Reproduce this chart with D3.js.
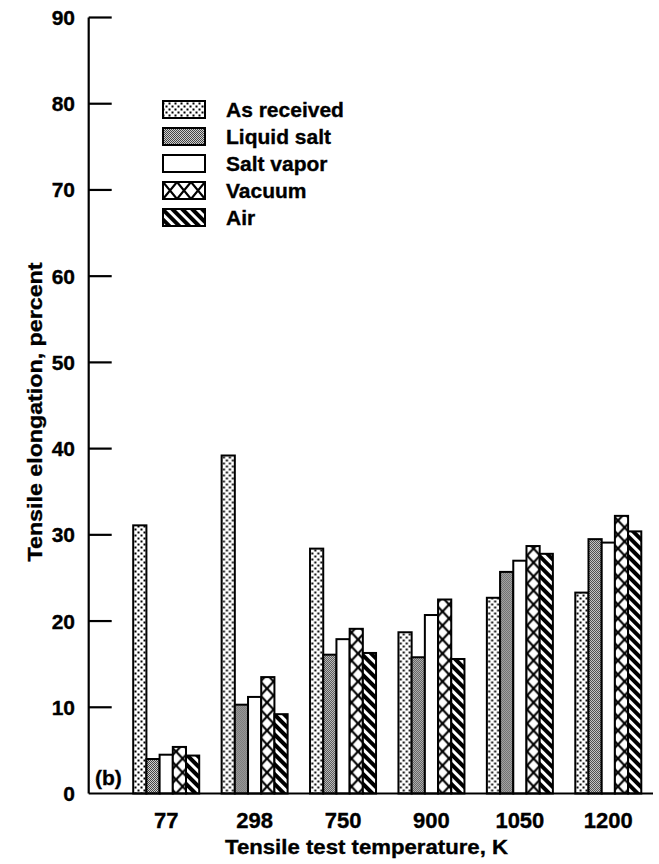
<!DOCTYPE html>
<html>
<head>
<meta charset="utf-8">
<script src="https://cdn.jsdelivr.net/npm/d3@7"></script>
<style>
  body { margin: 0; background: #fff; }
  svg text { font-family: "Liberation Sans", Arial, Helvetica, sans-serif; font-weight: bold; fill: #000; stroke: #000; stroke-width: 0.35px; }
</style>
</head>
<body>
<div id="graph"></div>
<script>
// values
var temps = ["77", "298", "750", "900", "1050", "1200"];
var seriesNames = ["As received", "Liquid salt", "Salt vapor", "Vacuum", "Air"];
var asReceived = [31.1, 39.2, 28.4, 18.7, 22.7, 23.3];
var liquidSalt = [4.0, 10.3, 16.1, 15.8, 25.7, 29.5];
var saltVapor  = [4.5, 11.2, 17.9, 20.7, 27.0, 29.1];
var vacuum     = [5.4, 13.5, 19.1, 22.5, 28.7, 32.2];
var air        = [4.4, 9.2, 16.3, 15.6, 27.8, 30.4];
var yTicks = [0, 10, 20, 30, 40, 50, 60, 70, 80, 90];

var allSeries = [asReceived, liquidSalt, saltVapor, vacuum, air];
var fills = ["dots", "gray", "none", "cross", "stripes"];

var width = 659, height = 864;
var axisX = 88.7, axisRight = 653;

var svg = d3.select("#graph").append("svg")
    .attr("width", width)
    .attr("height", height);

var y = d3.scaleLinear().domain([0, 90]).range([793.5, 17.5]);

var x0 = d3.scaleBand().domain(temps).range([122, 652.5]);
var groupW = 66;
var x1 = d3.scaleBand().domain(seriesNames)
    .range([(x0.bandwidth() - groupW) / 2, (x0.bandwidth() + groupW) / 2]);
var bw = x1.bandwidth();

var defs = svg.append("defs");

// sparse dots (as received)
var pDots = defs.append("pattern").attr("id", "dots")
    .attr("patternUnits", "userSpaceOnUse").attr("width", 6).attr("height", 6);
pDots.append("rect").attr("width", 6).attr("height", 6).attr("fill", "#fff");
pDots.append("rect").attr("x", 0.5).attr("y", 0.5).attr("width", 2).attr("height", 2).attr("fill", "#000");
pDots.append("rect").attr("x", 3.5).attr("y", 3.5).attr("width", 2).attr("height", 2).attr("fill", "#000");

// fine gray dither (liquid salt)
var pGray = defs.append("pattern").attr("id", "gray")
    .attr("patternUnits", "userSpaceOnUse").attr("width", 2).attr("height", 2);
pGray.append("rect").attr("width", 2).attr("height", 2).attr("fill", "#d0d0d0");
pGray.append("rect").attr("width", 1).attr("height", 1).attr("fill", "#444");
pGray.append("rect").attr("x", 1).attr("y", 1).attr("width", 1).attr("height", 1).attr("fill", "#444");

// diagonal stripes (air)
var pStr = defs.append("pattern").attr("id", "stripes")
    .attr("patternUnits", "userSpaceOnUse").attr("width", 7).attr("height", 7)
    .attr("patternTransform", "rotate(-45)");
pStr.append("rect").attr("width", 7).attr("height", 7).attr("fill", "#fff");
pStr.append("rect").attr("width", 4).attr("height", 7).attr("fill", "#000");

// crosshatch (vacuum), one per bar so the X sits on the bar
function crossPattern(id, px, py, w, h) {
  var p = defs.append("pattern").attr("id", id)
      .attr("patternUnits", "userSpaceOnUse")
      .attr("x", px).attr("y", py).attr("width", w).attr("height", h);
  p.append("rect").attr("width", w).attr("height", h).attr("fill", "#fff");
  p.append("path")
      .attr("d", "M0,0L" + w + "," + h + "M" + w + ",0L0," + h)
      .attr("stroke", "#000").attr("stroke-width", 2.2);
}
temps.forEach(function(t, i) {
  crossPattern("cross" + i, x0(t) + x1("Vacuum"), y(0), bw, 14);
});

function fillFor(k, i) {
  var f = fills[k];
  if (f === "none") return "#fff";
  if (f === "cross") return "url(#cross" + i + ")";
  return "url(#" + f + ")";
}

// bars
var groups = svg.append("g").selectAll("g")
    .data(temps)
    .enter().append("g")
    .attr("transform", function(d) { return "translate(" + x0(d) + ",0)"; });

groups.selectAll("rect")
    .data(function(d, i) {
      return seriesNames.map(function(s, k) { return {s: s, k: k, i: i, v: allSeries[k][i]}; });
    })
    .enter().append("rect")
    .attr("x", function(d) { return x1(d.s); })
    .attr("y", function(d) { return y(d.v); })
    .attr("width", bw)
    .attr("height", function(d) { return y(0) - y(d.v); })
    .attr("fill", function(d) { return fillFor(d.k, d.i); })
    .attr("stroke", "#000")
    .attr("stroke-width", 2);

// axes
svg.append("line")
    .attr("x1", axisX).attr("x2", axisX)
    .attr("y1", y(90)).attr("y2", y(0))
    .attr("stroke", "#000").attr("stroke-width", 2.2);

svg.append("line")
    .attr("x1", axisX).attr("x2", axisRight)
    .attr("y1", y(0)).attr("y2", y(0))
    .attr("stroke", "#000").attr("stroke-width", 2.2);

svg.selectAll(".ytick")
    .data(yTicks.filter(function(d) { return d > 0; }))
    .enter().append("line")
    .attr("class", "ytick")
    .attr("x1", axisX).attr("x2", axisX + 23)
    .attr("y1", function(d) { return y(d); })
    .attr("y2", function(d) { return y(d); })
    .attr("stroke", "#000").attr("stroke-width", 2.2);

svg.selectAll(".ylab")
    .data(yTicks)
    .enter().append("text")
    .attr("class", "ylab")
    .attr("x", 75)
    .attr("y", function(d) { return y(d) + 7.5; })
    .attr("text-anchor", "end")
    .attr("font-size", "21px")
    .text(function(d) { return d; });

svg.selectAll(".xlab")
    .data(temps)
    .enter().append("text")
    .attr("class", "xlab")
    .attr("x", function(d) { return x0(d) + x0.bandwidth() / 2; })
    .attr("y", 828)
    .attr("text-anchor", "middle")
    .attr("font-size", "22px")
    .text(function(d) { return d; });

// axis titles
svg.append("text")
    .attr("x", 366.5)
    .attr("y", 854)
    .attr("text-anchor", "middle")
    .attr("font-size", "21px")
    .attr("textLength", 283)
    .attr("lengthAdjust", "spacingAndGlyphs")
    .text("Tensile test temperature, K");

svg.append("text")
    .attr("transform", "translate(41.5,412) rotate(-90)")
    .attr("text-anchor", "middle")
    .attr("font-size", "20px")
    .attr("textLength", 299)
    .attr("lengthAdjust", "spacingAndGlyphs")
    .text("Tensile elongation, percent");

svg.append("text")
    .attr("x", 95)
    .attr("y", 785)
    .attr("font-size", "21px")
    .text("(b)");

// legend
var legTop = 101, legStep = 27;
crossPattern("crossLeg", 163, legTop + 3 * legStep, 14, 17);

var legend = svg.selectAll(".legend")
    .data(seriesNames)
    .enter().append("g")
    .attr("class", "legend");

legend.append("rect")
    .attr("x", 163)
    .attr("y", function(d, k) { return legTop + k * legStep; })
    .attr("width", 42)
    .attr("height", 17)
    .attr("fill", function(d, k) {
      return fills[k] === "cross" ? "url(#crossLeg)" : fillFor(k, 0);
    })
    .attr("stroke", "#000")
    .attr("stroke-width", 2);

legend.append("text")
    .attr("x", 226)
    .attr("y", function(d, k) { return legTop + k * legStep + 16; })
    .attr("font-size", "21px")
    .text(function(d) { return d; });
</script>
</body>
</html>
